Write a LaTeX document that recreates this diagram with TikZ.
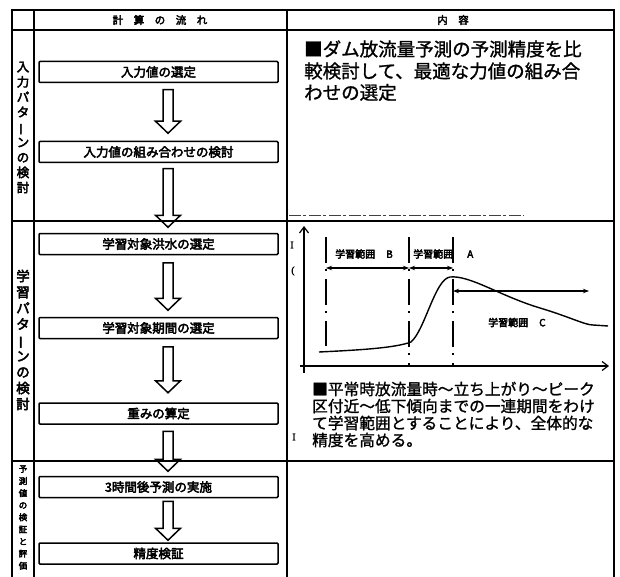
\documentclass[tikz,border=0pt]{standalone}
\usepackage{fontspec}
\usepackage{graphicx}
\setmainfont{Noto Sans CJK JP}[FakeBold=1]
\newfontfamily\jpb{Noto Sans CJK JP}[FakeBold=3.5]
\newfontfamily\jpm{Noto Sans CJK JP}[FakeBold=1.2]
\newfontfamily\serifb{Liberation Serif}[FakeBold=2]
\usetikzlibrary{arrows.meta,calc}
\newcommand\mychoon{\rotatebox[origin=c]{90}{ー}}
\newcommand\blockarrow[4]{%
  \draw[blockarr] let \p1=(#1.south), \p2=(#2.north), \p3=(ax) in
    (\x3-5pt,\y1-#3) -- (\x3+5pt,\y1-#3) -- (\x3+5pt,\y2+#4+12pt) -- (\x3+12.5pt,\y2+#4+12pt)
    -- (\x3,\y2+#4) -- (\x3-12.5pt,\y2+#4+12pt) -- (\x3-5pt,\y2+#4+12pt) -- cycle;}
\begin{document}
\begin{tikzpicture}[x=1pt,y=-1pt,
  tbl/.style={line width=1.8pt},
  flowbox/.style={draw, line width=1.5pt, minimum width=239pt, minimum height=21pt,
    inner sep=0pt, rounded corners=1pt, font=\jpb\fontsize{12.5}{14}\selectfont},
  blockarr/.style={draw, line width=1.5pt, line join=miter},
  hdr/.style={inner sep=0pt, font=\jpb\fontsize{10.5}{12}\selectfont},
  vlab/.style={align=center, inner sep=0pt},
  rt/.style={inner sep=0pt, anchor=base west, font=\jpm\fontsize{18.5}{20}\selectfont},
  bt/.style={inner sep=0pt, anchor=base west, font=\jpm\fontsize{15.7}{17}\selectfont},
  gl/.style={inner sep=0pt, anchor=west, font=\jpb\fontsize{10}{12}\selectfont},
  frag/.style={inner sep=0pt, font=\serifb\fontsize{10}{12}\selectfont},
  dd/.style={line width=1.7pt, dash pattern=on 26pt off 6pt on 2pt off 8pt},
  dbl/.style={line width=1.1pt, {Stealth[length=6pt,width=4.5pt]}-{Stealth[length=6pt,width=4.5pt]}},
  axis/.style={line width=1.2pt, -{Straight Barb[length=6pt,width=9pt]}}]
\useasboundingbox (0,0) rectangle (620,577);
\fill[white] (0,0) rectangle (620,577);

% table
\draw[tbl] (12,577) -- (12,10) -- (614,10) -- (614,577);
\draw[tbl] (34,10) -- (34,577);
\draw[tbl] (287,10) -- (287,577);
\draw[tbl] (12,30) -- (614,30);
\draw[tbl] (12,221) -- (614,221);
\draw[tbl] (12,461) -- (614,461);
\draw[line width=0.8pt, black!75, dash pattern=on 12pt off 2pt on 3pt off 3pt] (289,215) -- (524,215);

% headers
\node[hdr] (h1) at (160,20) {計　算　の　流　れ};
\node[hdr] (h2) at (453,20) {内　容};

% section labels
\node[vlab, font=\jpb\fontsize{12.5}{15.1}\selectfont] (s1) at (23,127.5)
  {入\\力\\パ\\タ\\\mychoon\\ン\\の\\検\\討};
\node[vlab, font=\jpb\fontsize{13.5}{16}\selectfont] (s2) at (23,340)
  {学\\習\\パ\\タ\\\mychoon\\ン\\の\\検\\討};
\node[vlab, font=\jpb\fontsize{8.5}{12.1}\selectfont] (s3) at (23,517.5)
  {予\\測\\値\\の\\検\\証\\と\\評\\価};

% flow boxes
\node[flowbox] (b1) at (158.5,72) {入力値の選定};
\node[flowbox] (b2) at (158.5,152) {入力値の組み合わせの検討};
\node[flowbox] (b3) at (158.5,244) {学習対象洪水の選定};
\node[flowbox] (b4) at (158.5,328) {学習対象期間の選定};
\node[flowbox] (b5) at (158.5,413.5) {重みの算定};
\node[flowbox] (b6) at (158.5,487) {3時間後予測の実施};
\node[flowbox] (b7) at (158.5,553.5) {精度検証};

% block arrows
\coordinate (ax) at (168,0);
\blockarrow{b1}{b2}{6.5pt}{7.5pt}
\blockarrow{b2}{b3}{5.5pt}{5.5pt}
\blockarrow{b3}{b4}{7.5pt}{6.5pt}
\blockarrow{b4}{b5}{7.5pt}{9.5pt}
\blockarrow{b5}{b6}{6.5pt}{4.5pt}
\blockarrow{b6}{b7}{3pt}{2pt}

% right texts
\node[rt] (t1) at (304,56) {■ダム放流量予測の予測精度を比};
\node[rt] (t2) at (304,78) {較検討して、最適な力値の組み合};
\node[rt] (t3) at (304,99.5) {わせの選定};

\node[bt] (u1) at (312,395) {■平常時放流量時～立ち上がり～ピーク};
\node[bt] (u2) at (312,412) {区付近～低下傾向までの一連期間をわけ};
\node[bt] (u3) at (312,429) {て学習範囲とすることにより、全体的な};
\node[bt] (u4) at (312,446) {精度を高める。};

% fragments
\node[frag] (f1) at (292,245) {I};
\node[frag] (f2) at (293,271) {(};
\node[frag] (f3) at (294,437) {I};

% chart
\coordinate (yb) at (304,373);
\coordinate (yt) at (304,226);
\coordinate (xl) at (300,366);
\coordinate (xr) at (609,366);
\draw[axis] (yb) -- (yt);
\draw[axis] (xl) -- (xr);

\coordinate (d1t) at (326,237); \coordinate (d1b) at (326,346);
\coordinate (d2t) at (409,237); \coordinate (d2b) at (409,366);
\coordinate (d3t) at (453,237); \coordinate (d3b) at (453,366);
\draw[dd] (d1t) -- (d1b);
\draw[dd] (d2t) -- (d2b);
\draw[dd] (d3t) -- (d3b);

\coordinate (aB1) at (326,268); \coordinate (aB2) at (409,268);
\coordinate (aA2) at (453,268);
\coordinate (aC1) at (453,291); \coordinate (aC2) at (589,291);
\draw[dbl] (aB1) -- (aB2);
\draw[dbl] (aB2) -- (aA2);
\draw[dbl] (aC1) -- (aC2);

\node[gl] (lB) at (335,254) {学習範囲\hspace{11pt}B};
\node[gl] (lA) at (413,254) {学習範囲\hspace{14pt}A};
\node[gl] (lC) at (488,322.5) {学習範囲\hspace{11pt}C};

\draw[line width=1.4pt] (319,352) .. controls (360,350) and (395,348) .. (411,342)
  .. controls (425,330) and (435,279) .. (450,277)
  .. controls (470,275) and (500,296) .. (540,308)
  .. controls (570,317) and (585,325) .. (593,325) -- (608,326);
\end{tikzpicture}
\end{document}
